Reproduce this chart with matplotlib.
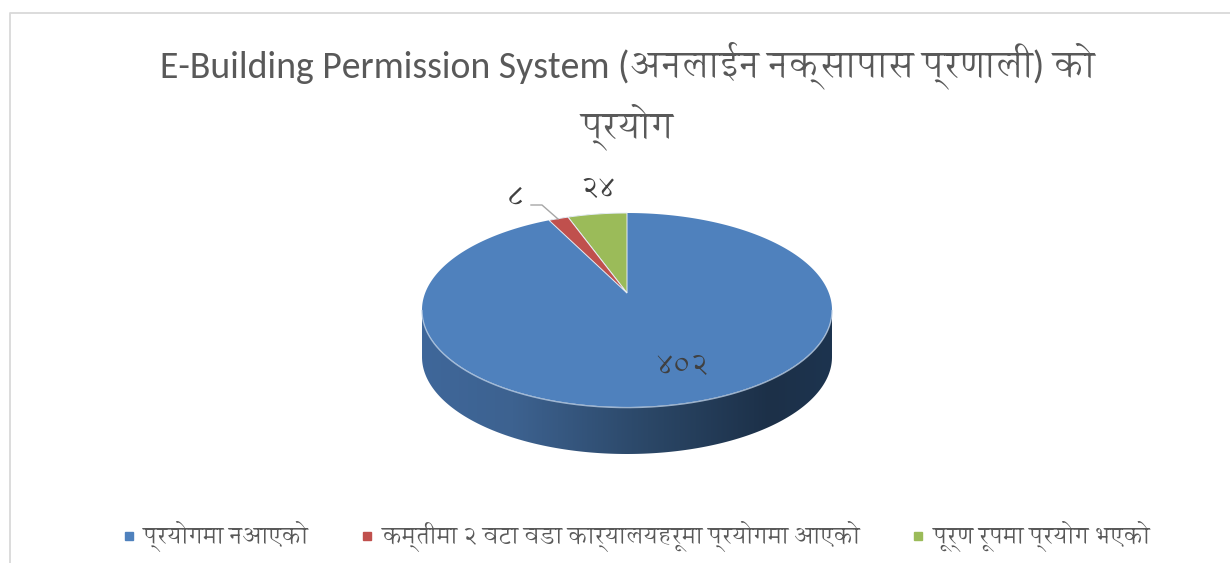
import numpy as np
import matplotlib
matplotlib.use('Agg')
import matplotlib.pyplot as plt
from matplotlib.patches import Polygon, PathPatch
from matplotlib.path import Path
from matplotlib.lines import Line2D
from matplotlib.colors import LinearSegmentedColormap

categories = ["प्रयोगमा नआएको", "कम्तीमा २ वटा वडा कार्यालयहरूमा प्रयोगमा आएको", "पूर्ण रूपमा प्रयोग भएको"]
values = [402, 8, 24]
value_labels = ["४०२", "८", "२४"]
colors = ["#4F81BD", "#C0504D", "#9BBB59"]
title = "E-Building Permission System (अनलाईन नक्सापास प्रणाली) को\nप्रयोग"

FONT = ['Carlito', 'Annapurna SIL', 'DejaVu Sans']
TXT = '#595959'

fig = plt.figure(figsize=(12.3, 5.63), dpi=100)
ax = fig.add_axes([0, 0, 1, 1])
ax.set_xlim(0, 1230)
ax.set_ylim(563, 0)
ax.axis('off')

# chart frame: top and left edges are visible in the crop
ax.plot([9.5, 9.5, 1230], [563, 12.5, 12.5], color='#D9D9D9', lw=1.3, zorder=1)

# pie geometry in pixels, with a perspective tilt
cx, cy, rx, ry, depth = 627, 310, 205, 97, 47
k = 0.175

def project(theta):
    u, v = np.sin(theta), np.cos(theta)
    den = 1 + k * v
    return cx + rx * u * np.sqrt(1 - k**2) / den, cy - ry * (v + k) / den

apex = (cx, cy - ry * k)
t = np.linspace(0, 2 * np.pi, 721)
ex, ey = cx + rx * np.sin(t), cy - ry * np.cos(t)

# side wall with horizontal gradient
a = np.linspace(np.pi / 2, 3 * np.pi / 2, 300)
sx, sy = cx + rx * np.sin(a), cy - ry * np.cos(a)
verts = np.r_[np.c_[sx, sy], np.c_[sx[::-1], sy[::-1] + depth]]
wall = PathPatch(Path(np.r_[verts, verts[:1]], closed=True), fc='none', ec='none')
ax.add_patch(wall)
cmap = LinearSegmentedColormap.from_list('side', [(0, '#3F679A'), (0.22, '#3D6290'), (0.55, '#2B4767'),
                                                  (0.85, '#1C3048'), (1, '#1D344F')])
im = ax.imshow(np.linspace(0, 1, 256)[None, :], cmap=cmap, aspect='auto',
               extent=[cx - rx, cx + rx, cy + ry + depth, cy - 10], zorder=2)
im.set_clip_path(wall)
ax.set_xlim(0, 1230)
ax.set_ylim(563, 0)

# top face: largest slice is the whole ellipse, smaller ones sit on top
ax.fill(ex, ey, fc=colors[0], ec='none', zorder=3)
ax.plot(sx, sy + 0.6, color='#B9CDE5', lw=1.0, alpha=0.8, zorder=3.5)

total = sum(values)
# clockwise from the top the chart runs green, red, then blue
cur = 0.0
for val, col in zip(values[:0:-1], colors[:0:-1]):
    nxt = cur + val / total * 2 * np.pi
    th = np.linspace(cur, nxt, 40)
    px, py = project(-th)
    ax.add_patch(Polygon(np.r_[[apex], np.c_[px, py]], closed=True, fc=col, ec='#E8EEF5',
                         lw=0.7, zorder=4))
    cur = nxt

# data labels
lab = dict(family=FONT, color='#404040', fontsize=21.5, ha='center', va='center', zorder=6)
ax.text(682, 366, value_labels[0], **lab)
ax.text(516, 198, value_labels[1], **lab)
ax.text(598, 189, value_labels[2], **lab)
ax.plot([531, 542, 558], [205, 205, 219], color='#A6A6A6', lw=1.0, zorder=5)

# title
ax.text(627, 96, title, family=FONT, fontsize=27.2, color=TXT, ha='center', va='center',
        linespacing=1.42, zorder=6)

# legend
handles = [Line2D([], [], ls='none', marker='s', ms=5.8, mfc=c, mec=c) for c in colors]
ax.legend(handles, categories, loc='center', bbox_to_anchor=(633 / 1230, 1 - 537 / 563), ncol=3,
          frameon=False, prop={'family': FONT, 'size': 17.5}, labelcolor=TXT, handletextpad=0.1,
          columnspacing=1.9, handlelength=1.0)

fig.savefig('out.png', dpi=100)
